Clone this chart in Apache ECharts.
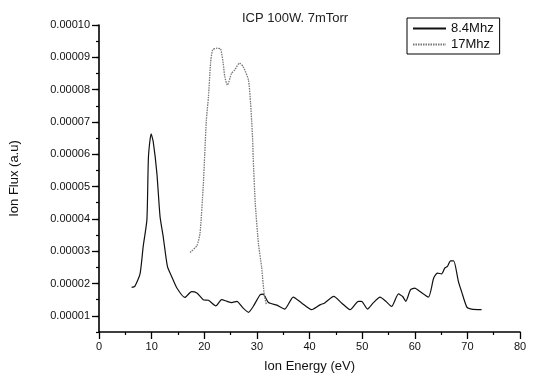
<!DOCTYPE html>
<html>
<head>
<meta charset="utf-8">
<script src="https://cdn.jsdelivr.net/npm/echarts@6/dist/echarts.min.js"></script>
<style>html,body{margin:0;padding:0;background:#fff}#c{width:533px;height:380px}</style>
</head>
<body>
<div id="c"></div>
<script>
const seriesNames = ['8.4Mhz', '17Mhz'];
const energy84 = [6.2,6.8,7.8,8.4,9.1,9.4,9.9,10.3,11.0,11.6,12.2,13.0,13.8,14.8,16.3,17.6,18.6,19.8,20.8,22.2,23.3,24.3,25.2,26.2,27.4,28.4,29.3,30.6,31.2,32.2,33.8,35.3,36.9,38.5,40.4,42.0,42.9,44.6,46.1,47.7,49.3,49.9,51.0,52.1,53.4,54.5,55.6,56.9,57.7,58.3,59.2,60.0,61.0,62.6,63.6,64.3,65.1,65.7,66.2,66.8,67.4,68.3,68.9,69.9,70.8,72.7];
const flux84 = [1.88e-5,1.91e-5,2.3e-5,3.15e-5,3.97e-5,5.93e-5,6.63e-5,6.39e-5,5.41e-5,4.07e-5,3.45e-5,2.53e-5,2.22e-5,1.86e-5,1.57e-5,1.75e-5,1.71e-5,1.5e-5,1.48e-5,1.31e-5,1.5e-5,1.45e-5,1.41e-5,1.45e-5,1.24e-5,1.11e-5,1.29e-5,1.65e-5,1.67e-5,1.41e-5,1.33e-5,1.21e-5,1.58e-5,1.4e-5,1.19e-5,1.34e-5,1.4e-5,1.6e-5,1.4e-5,1.19e-5,1.45e-5,1.45e-5,1.21e-5,1.4e-5,1.58e-5,1.45e-5,1.29e-5,1.68e-5,1.6e-5,1.45e-5,1.81e-5,1.86e-5,1.75e-5,1.58e-5,2.17e-5,2.32e-5,2.3e-5,2.48e-5,2.53e-5,2.7e-5,2.7e-5,2.06e-5,1.75e-5,1.27e-5,1.21e-5,1.19e-5];
const energy17 = [17.3,18.6,19.2,19.8,20.1,20.4,20.8,21.2,21.6,22.4,23.1,23.6,23.9,24.4,25.2,25.8,26.7,27.4,28.4,28.8,29.0,29.2,29.3,29.7,30.3,30.9,31.4,31.8];
const flux17 = [2.96e-5,3.17e-5,3.56e-5,5.0e-5,6.03e-5,7.06e-5,7.78e-5,8.82e-5,9.23e-5,9.28e-5,9.26e-5,8.82e-5,8.4e-5,8.14e-5,8.51e-5,8.61e-5,8.82e-5,8.71e-5,8.3e-5,7.58e-5,7.06e-5,6.44e-5,5.9e-5,4.47e-5,3.23e-5,2.51e-5,1.65e-5,1.35e-5];
const yTickValues = [0.00001,0.00002,0.00003,0.00004,0.00005,0.00006,0.00007,0.00008,0.00009,0.0001];
const yTickLabels = ['0.00001','0.00002','0.00003','0.00004','0.00005','0.00006','0.00007','0.00008','0.00009','0.00010'];
const xTickLabels = ['0','10','20','30','40','50','60','70','80'];

const font = 'Liberation Sans, Arial, sans-serif';
const pair = (xs, ys) => xs.map((x, i) => [x, ys[i]]);

const chart = echarts.init(document.getElementById('c'), null, {renderer: 'canvas'});
chart.setOption({
  animation: false,
  backgroundColor: '#fff',
  textStyle: {fontFamily: font},
  title: {
    text: 'ICP 100W. 7mTorr',
    left: 237, top: 7,
    textStyle: {fontSize: 13, fontWeight: 'normal', color: '#222', fontFamily: font}
  },
  legend: {
    data: seriesNames,
    orient: 'vertical',
    left: 407, top: 18,
    padding: [4, 6, 3, 5],
    itemGap: 3,
    itemWidth: 33, itemHeight: 10,
    borderColor: '#000', borderWidth: 1,
    itemStyle: {opacity: 0},
    textStyle: {fontSize: 13, color: '#111', fontFamily: font}
  },
  grid: {left: 99, right: 13, top: 25, bottom: 48},
  xAxis: {
    type: 'value', min: 0, max: 80, interval: 10,
    name: 'Ion Energy (eV)', nameLocation: 'middle', nameGap: 28,
    nameTextStyle: {fontSize: 13, color: '#111', fontFamily: font},
    axisLine: {lineStyle: {color: '#000', width: 1.6}},
    axisTick: {length: 7, lineStyle: {color: '#000', width: 1.3}},
    minorTick: {show: true, splitNumber: 2, length: 3, lineStyle: {color: '#000', width: 1.2}},
    splitLine: {show: false},
    axisLabel: {fontSize: 11, color: '#111', margin: 9, fontFamily: font,
      formatter: v => xTickLabels[Math.round(v / 10)] ?? ''}
  },
  yAxis: [{
    type: 'value', min: 0.000005, max: 0.0001,
    name: 'Ion Flux (a.u)', nameLocation: 'middle', nameGap: 78,
    nameTextStyle: {fontSize: 13, color: '#111', fontFamily: font},
    axisLine: {show: true, lineStyle: {color: '#000', width: 1.6}},
    axisTick: {show: true, length: 7, customValues: yTickValues, lineStyle: {color: '#000', width: 1.3}},
    splitLine: {show: false},
    axisLabel: {fontSize: 11, color: '#111', margin: 9, fontFamily: font,
      customValues: yTickValues,
      formatter: v => {
        const i = yTickValues.findIndex(t => Math.abs(t - v) < 1e-9);
        return i >= 0 ? yTickLabels[i] : '';
      }}
  }, {
    type: 'value', min: 0.000005, max: 0.0001, interval: 0.000005,
    position: 'left',
    axisLine: {show: false},
    axisTick: {show: true, length: 3, lineStyle: {color: '#000', width: 1.2}},
    axisLabel: {show: false},
    splitLine: {show: false}
  }],
  series: [{
    name: seriesNames[0], type: 'line', yAxisIndex: 0,
    data: pair(energy84, flux84),
    symbol: 'none', smooth: 0.2,
    lineStyle: {color: '#111', width: 1.2},
    itemStyle: {color: '#111'}
  }, {
    name: seriesNames[1], type: 'line', yAxisIndex: 0,
    data: pair(energy17, flux17),
    symbol: 'none', smooth: 0.2,
    lineStyle: {color: '#777', width: 1.3, type: [1.5, 1]},
    itemStyle: {color: '#777'}
  }]
});
</script>
</body>
</html>
